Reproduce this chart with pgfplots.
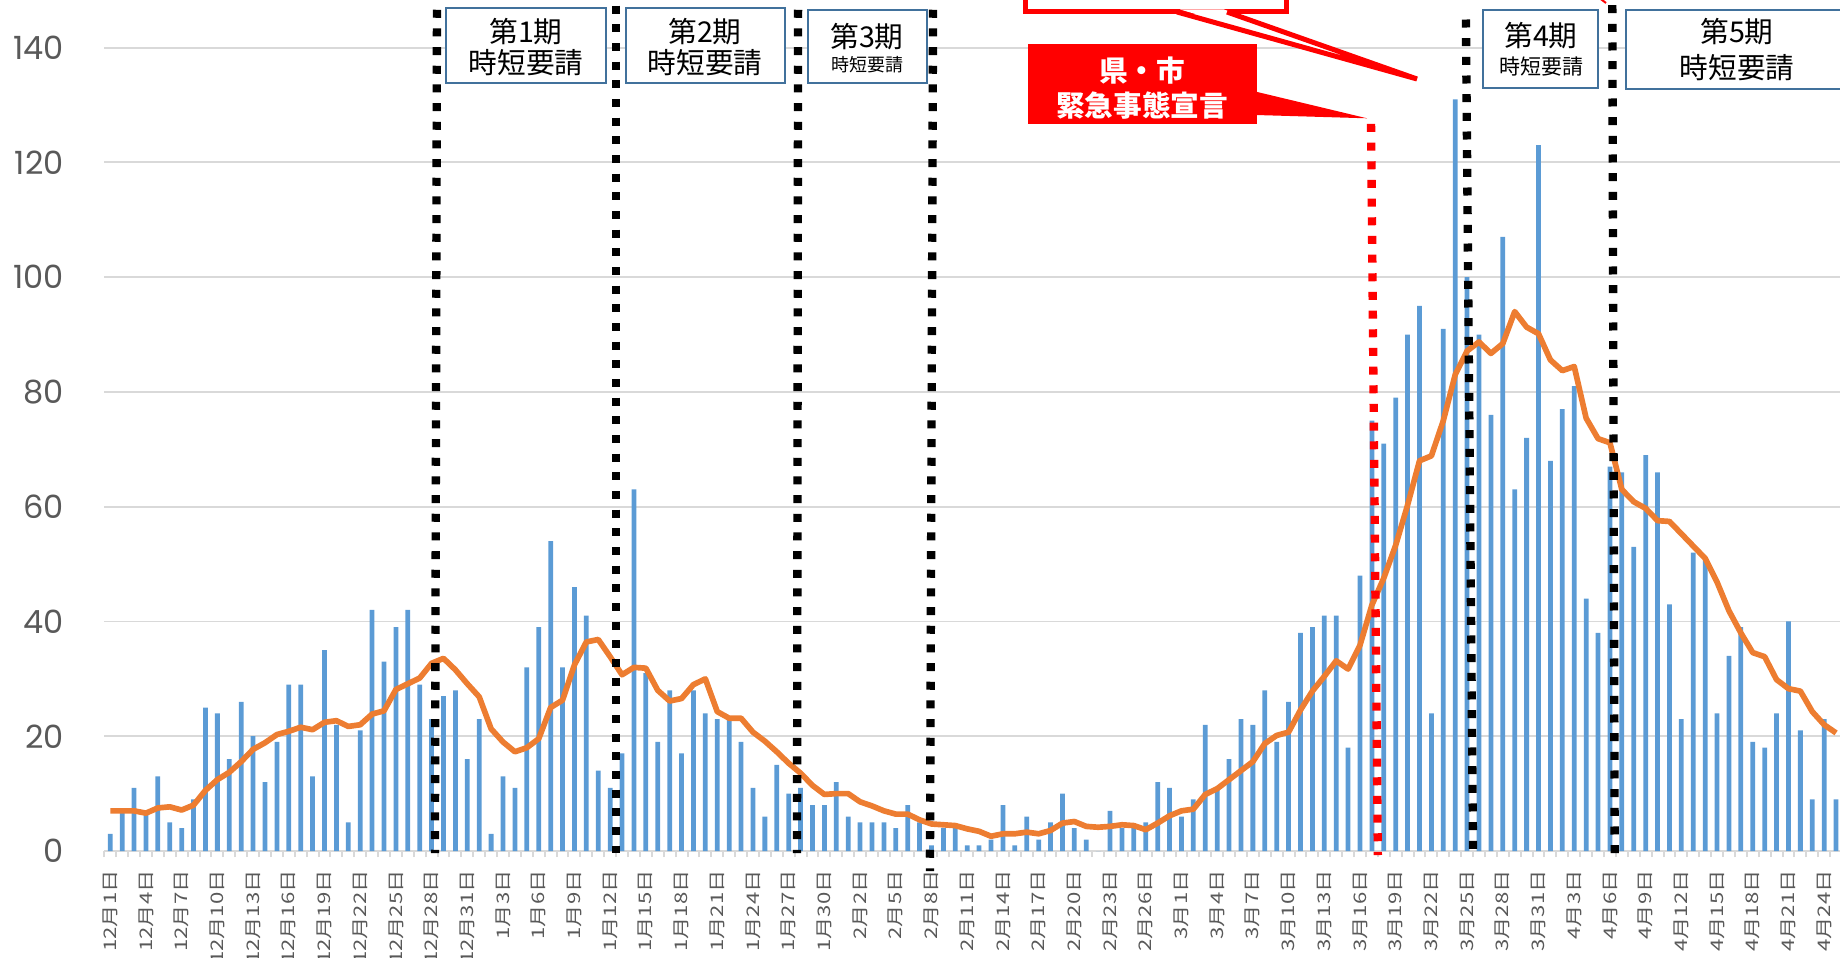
\documentclass[border=0pt]{standalone}
\usepackage{pgfplots}
\pgfplotsset{compat=1.18}
\usepackage{pgfplotstable}
\usepackage{fontspec}
\setmainfont{Liberation Sans}
\newfontfamily\jp{Noto Sans CJK JP}
\newfontfamily\jplab[FakeStretch=1.28]{Noto Sans CJK JP}
\newfontfamily\pop{Poppins}
\definecolor{barblue}{HTML}{5B9BD5}
\definecolor{lineor}{HTML}{ED7D31}
\definecolor{gridg}{HTML}{D9D9D9}
\definecolor{tickg}{HTML}{595959}
\definecolor{boxb}{HTML}{41719C}
\definecolor{redA}{HTML}{FF0000}

\pgfplotstableread{
i n avg
0 3 7.0
1 7 7.0
2 11 7.0
3 7 6.6
4 13 7.5
5 5 7.7
6 4 7.14
7 9 8.00
8 25 10.57
9 24 12.43
10 16 13.71
11 26 15.57
12 20 17.71
13 12 18.86
14 19 20.29
15 29 20.86
16 29 21.57
17 13 21.14
18 35 22.43
19 22 22.71
20 5 21.71
21 21 22.00
22 42 23.86
23 33 24.43
24 39 28.14
25 42 29.14
26 29 30.14
27 23 32.71
28 27 33.57
29 28 31.57
30 16 29.14
31 23 26.86
32 3 21.29
33 13 19.00
34 11 17.29
35 32 18.00
36 39 19.57
37 54 25.00
38 32 26.29
39 46 32.43
40 41 36.43
41 14 36.86
42 11 33.86
43 17 30.71
44 63 32.00
45 31 31.86
46 19 28.00
47 28 26.14
48 17 26.57
49 28 29.00
50 24 30.00
51 23 24.29
52 23 23.14
53 19 23.14
54 11 20.71
55 6 19.14
56 15 17.29
57 10 15.29
58 11 13.57
59 8 11.43
60 8 9.86
61 12 10.00
62 6 10.00
63 5 8.57
64 5 7.86
65 5 7.00
66 4 6.43
67 8 6.43
68 5 5.43
69 1 4.71
70 4 4.57
71 4 4.43
72 1 3.86
73 1 3.43
74 2 2.57
75 8 3.00
76 1 3.00
77 6 3.29
78 2 3.00
79 5 3.57
80 10 4.86
81 4 5.14
82 2 4.29
83 0 4.14
84 7 4.29
85 4 4.57
86 4 4.43
87 5 3.71
88 12 4.86
89 11 6.14
90 6 7.00
91 9 7.29
92 22 9.86
93 11 10.86
94 16 12.43
95 23 14.00
96 22 15.57
97 28 18.71
98 19 20.14
99 26 20.71
100 38 24.57
101 39 27.86
102 41 30.43
103 41 33.14
104 18 31.71
105 48 35.86
106 75 42.86
107 71 47.57
108 79 53.29
109 90 60.29
110 95 68.00
111 24 68.86
112 91 75.00
113 131 83.00
114 100 87.14
115 90 88.71
116 76 86.71
117 107 88.43
118 63 94.00
119 72 91.29
120 123 90.14
121 68 85.57
122 77 83.71
123 81 84.43
124 44 75.43
125 38 71.86
126 67 71.14
127 66 63.00
128 53 60.86
129 69 59.71
130 66 57.57
131 43 57.43
132 23 55.29
133 52 53.14
134 51 51.00
135 24 46.86
136 34 41.86
137 39 38.00
138 19 34.57
139 18 33.86
140 24 29.86
141 40 28.29
142 21 27.86
143 9 24.29
144 23 22.00
145 9 20.57
}\cases

\begin{document}
\begin{tikzpicture}
\path[use as bounding box] (0,0) rectangle (552pt,287.1pt);
\clip (0,0) rectangle (552pt,287.1pt);
\begin{axis}[
  at={(31.29pt,31.8pt)}, anchor=south west,
  scale only axis, width=520.71pt, height=255.3pt,
  xmin=-0.5, xmax=145.33, ymin=0, ymax=148.3,
  clip=false,
  axis lines*=left,
  x axis line style={draw=gridg, line width=0.7pt},
  y axis line style={draw=none},
  ytick={0,20,...,140},
  ymajorgrids,
  grid style={draw=gridg, line width=0.55pt},
  /pgf/number format/assume math mode=true,
  yticklabel style={font=\pop\fontsize{9.6}{10}\selectfont, text=tickg, anchor=east, inner sep=0pt, xshift=-12pt},
  xtick={0,3,...,144},
  xticklabels={12月1日,12月4日,12月7日,12月10日,12月13日,12月16日,12月19日,12月22日,12月25日,12月28日,12月31日,1月3日,1月6日,1月9日,1月12日,1月15日,1月18日,1月21日,1月24日,1月27日,1月30日,2月2日,2月5日,2月8日,2月11日,2月14日,2月17日,2月20日,2月23日,2月26日,3月1日,3月4日,3月7日,3月10日,3月13日,3月16日,3月19日,3月22日,3月25日,3月28日,3月31日,4月3日,4月6日,4月9日,4月12日,4月15日,4月18日,4月21日,4月24日},
  xticklabel style={font=\jplab\fontsize{5.2}{6}\selectfont, text=tickg, rotate=90, anchor=east, inner sep=0pt},
  xticklabel shift=5.6pt,
  minor xtick={-0.5,0.5,...,145.5},
  tick align=outside,
  major tick length=0pt,
  minor tick length=1.8pt,
  minor tick style={draw=gridg, line width=0.6pt},
  major tick style={draw=none},
]
\addplot[ybar, bar width=0.4, fill=barblue, draw=none] table[x=i, y=n] {\cases};
\addplot[color=lineor, line width=1.7pt, no markers, line join=round] table[x=i, y=avg] {\cases};

% period boundaries
\tikzset{sq/.style={line width=2.5pt, dash pattern=on 2.4pt off 3.2pt}}
\draw[black, sq] (axis cs:27.45,146.6) -- (axis cs:27.28,-0.35);
\draw[black, sq] (axis cs:42.49,147.3) -- (axis cs:42.49,-0.35);
\draw[black, sq] (axis cs:57.79,146.6) -- (axis cs:57.70,-0.35);
\draw[black, sq] (axis cs:69.13,146.6) -- (axis cs:68.87,-3.5);
\draw[black, sq] (axis cs:113.9,144.9) -- (axis cs:114.5,-0.35);
\draw[black, sq] (axis cs:126.2,147.4) -- (axis cs:126.4,-0.35);
\draw[redA, sq] (axis cs:105.93,126.7) -- (axis cs:106.5,-0.7);
\end{axis}

\begin{scope}[x=0.3pt, y=-0.3pt, shift={(0pt,287.1pt)}]
  \tikzset{big/.style={font=\jp\fontsize{8.6}{9}\selectfont, inner sep=0pt}}
  % period boxes
  \draw[boxb, line width=0.8pt, fill=white] (446,8) rectangle (606,83);
  \node[big] at (526,32) {第1期};
  \node[big] at (526,63) {時短要請};
  \draw[boxb, line width=0.8pt, fill=white] (626,8) rectangle (785,83);
  \node[big] at (705,32) {第2期};
  \node[big] at (705,63) {時短要請};
  \draw[boxb, line width=0.8pt, fill=white] (808,10) rectangle (927,83);
  \node[big] at (867,37) {第3期};
  \node[font=\jp\fontsize{5.4}{6}\selectfont, inner sep=0pt] at (867,65) {時短要請};
  \draw[boxb, line width=0.8pt, fill=white] (1483,10) rectangle (1598,88);
  \node[big] at (1541,36) {第4期};
  \node[font=\jp\fontsize{6.3}{7}\selectfont, inner sep=0pt] at (1541,67) {時短要請};
  \draw[boxb, line width=0.8pt, fill=white] (1626,10) rectangle (1900,89);
  \node[big] at (1737,32) {第5期};
  \node[big] at (1737,68) {時短要請};
  % red outline callout (cut off at top)
  \draw[redA, line width=1.5pt, fill=white] (1025,-20) rectangle (1286,12);
  \fill[white] (1180,9.5) -- (1224,9.5) -- (1417,79) -- cycle;
  \draw[redA, line width=1.5pt, line join=miter] (1177,12) -- (1417,79) -- (1227,12);
  \draw[redA, line width=0.6pt] (1598,-3) -- (1606,3);
  % red filled callout
  \fill[redA] (1028,44) rectangle (1257,124);
  \fill[redA] (1256,91.7) -- (1367,118.3) -- (1256,115) -- cycle;
  \node[text=white, font=\jp\bfseries\fontsize{8.6}{9}\selectfont, inner sep=0pt] at (1142,71) {県・市};
  \node[text=white, font=\jp\bfseries\fontsize{8.6}{9}\selectfont, inner sep=0pt] at (1142,106) {緊急事態宣言};
\end{scope}
\end{tikzpicture}
\end{document}
